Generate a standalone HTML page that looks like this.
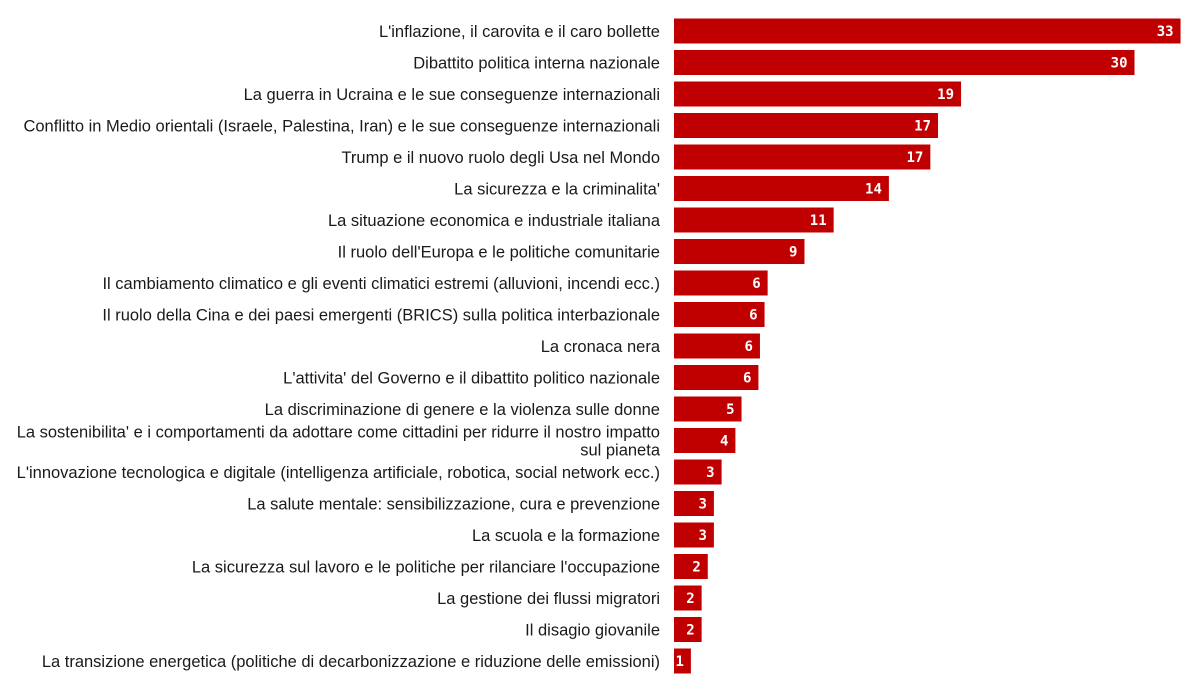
<!DOCTYPE html>
<html><head><meta charset="utf-8"><style>
body{margin:0;background:#fff;width:1200px;height:675px;overflow:hidden}
svg text{font-family:"Liberation Sans",Arial,sans-serif}
</style></head><body>
<svg id="chart" width="1200" height="675"></svg>
<script>
const categories=["L'inflazione, il carovita e il caro bollette","Dibattito politica interna nazionale","La guerra in Ucraina e le sue conseguenze internazionali","Conflitto in Medio orientali (Israele, Palestina, Iran) e le sue conseguenze internazionali","Trump e il nuovo ruolo degli Usa nel Mondo","La sicurezza e la criminalita'","La situazione economica e industriale italiana","Il ruolo dell'Europa e le politiche comunitarie","Il cambiamento climatico e gli eventi climatici estremi (alluvioni, incendi ecc.)","Il ruolo della Cina e dei paesi emergenti (BRICS) sulla politica interbazionale","La cronaca nera","L'attivita' del Governo e il dibattito politico nazionale","La discriminazione di genere e la violenza sulle donne","La sostenibilita' e i comportamenti da adottare come cittadini per ridurre il nostro impatto|sul pianeta","L'innovazione tecnologica e digitale (intelligenza artificiale, robotica, social network ecc.)","La salute mentale: sensibilizzazione, cura e prevenzione","La scuola e la formazione","La sicurezza sul lavoro e le politiche per rilanciare l'occupazione","La gestione dei flussi migratori","Il disagio giovanile","La transizione energetica (politiche di decarbonizzazione e riduzione delle emissioni)"];
const values=[33.0,30.0,18.7,17.2,16.7,14.0,10.4,8.5,6.1,5.9,5.6,5.5,4.4,4.0,3.1,2.6,2.6,2.2,1.8,1.8,1.1];
const valueLabels=["33","30","19","17","17","14","11","9","6","6","6","6","5","4","3","3","3","2","2","2","1"];
const svg=document.getElementById('chart');const NS='http://www.w3.org/2000/svg';
const x0=674,pxPerUnit=15.35,y0=31,step=31.5,bh=25;
const xs=v=>x0+v*pxPerUnit;const ys=i=>y0+i*step;
categories.forEach((c,i)=>{
 const cy=ys(i);
 const r=document.createElementNS(NS,'rect');
 
 
 r.setAttribute('x',x0);r.setAttribute('y',cy-bh/2);r.setAttribute('width',xs(values[i])-x0);r.setAttribute('height',bh);r.setAttribute('fill','#c00000');svg.appendChild(r);
 const t=document.createElementNS(NS,'text');
 
 
 t.setAttribute('x',660);t.setAttribute('text-anchor','end');t.setAttribute('font-size','16.5');t.setAttribute('fill','#1a1a1a');
 const lines=c.split('|');
 lines.forEach((l,k)=>{const ts=document.createElementNS(NS,'tspan');ts.setAttribute('x',660);ts.setAttribute('y',cy+6+(k-(lines.length-1)/2)*18);ts.textContent=l;t.appendChild(ts);});
 svg.appendChild(t);
 const v=document.createElementNS(NS,'text');
 
 
 v.setAttribute('x',xs(values[i])-7);v.setAttribute('y',cy+5);v.setAttribute('text-anchor','end');v.setAttribute('font-size','14');v.setAttribute('font-weight','bold');v.setAttribute('fill','#fff');v.setAttribute('style','font-family:"DejaVu Sans Mono",monospace');v.textContent=valueLabels[i];svg.appendChild(v);
});
</script></body></html>
